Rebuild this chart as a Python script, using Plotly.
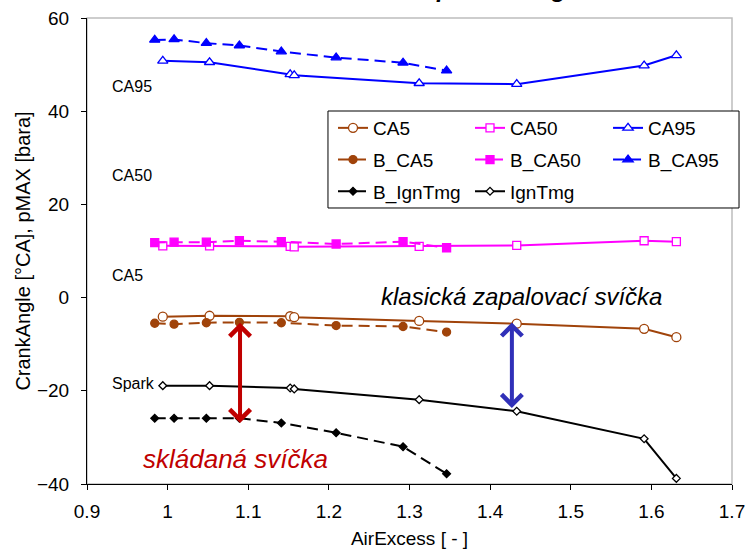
import plotly.graph_objects as go

# ---- data ----
x_open = [0.994, 1.052, 1.152, 1.157, 1.312, 1.433, 1.591, 1.631]
ca5 = [-4.1, -3.9, -4.0, -4.2, -5.0, -5.6, -6.7, -8.5]
ca50 = [11.1, 11.1, 11.0, 10.9, 11.0, 11.2, 12.2, 12.0]
ca95 = [50.8, 50.5, 47.9, 47.7, 46.0, 45.8, 49.8, 52.0]
ign = [-18.9, -18.9, -19.4, -19.6, -21.9, -24.4, -30.3, -38.8]

x_b = [0.984, 1.008, 1.048, 1.089, 1.141, 1.209, 1.292, 1.346]
b_ca5 = [-5.5, -5.7, -5.4, -5.3, -5.4, -6.0, -6.2, -7.4]
b_ca50 = [11.8, 11.9, 11.9, 12.2, 12.0, 11.5, 12.0, 10.7]
b_ca95 = [55.3, 55.4, 54.6, 54.1, 52.8, 51.5, 50.4, 48.7]
b_ign = [-25.9, -25.9, -25.9, -25.9, -26.9, -29.0, -32.0, -37.8]

x_ticks = [0.9, 1.0, 1.1, 1.2, 1.3, 1.4, 1.5, 1.6, 1.7]
x_ticktext = ["0.9", "1", "1.1", "1.2", "1.3", "1.4", "1.5", "1.6", "1.7"]
y_ticks = [-40, -20, 0, 20, 40, 60]

BROWN = "#A0430A"
MAG = "#FF00FF"
BLUE = "#0000FF"
BLACK = "#000000"
REG = "Liberation Sans, Arial, sans-serif"
DASH = "11px,6px"

fig = go.Figure()

def add(name, x, y, color, symbol, size, dash, legend, fill_white):
    fig.add_trace(go.Scatter(
        x=x, y=y, name=name, mode="lines+markers", legend=legend, legendgroup=name,
        line=dict(color=color, width=2, dash=dash),
        marker=dict(symbol=symbol, size=size,
                    color="white" if fill_white else color,
                    line=dict(color=color, width=1.3)),
    ))

# column 1
add("CA5", x_open, ca5, BROWN, "circle", 9, "solid", "legend", True)
add("B_CA5", x_b, b_ca5, BROWN, "circle", 8, DASH, "legend", False)
add("B_IgnTmg", x_b, b_ign, BLACK, "diamond", 6, DASH, "legend", False)
# column 2
add("CA50", x_open, ca50, MAG, "square", 8, "solid", "legend2", True)
add("B_CA50", x_b, b_ca50, MAG, "square", 8, DASH, "legend2", False)
add("IgnTmg", x_open, ign, BLACK, "diamond", 6, "solid", "legend2", True)
# column 3
add("CA95", x_open, ca95, BLUE, "triangle-up", 9, "solid", "legend3", True)
add("B_CA95", x_b, b_ca95, BLUE, "triangle-up", 9, DASH, "legend3", False)

leg_common = dict(y=0.8047, yanchor="top", xanchor="left", bgcolor="rgba(0,0,0,0)",
                  borderwidth=0, font=dict(family=REG, size=19, color="black"),
                  orientation="v", tracegroupgap=4, traceorder="grouped")

annotations = [
    dict(x=0.9285, y=45.4, xref="x", yref="y", text="CA95", showarrow=False,
         xanchor="left", font=dict(family=REG, size=16, color="black")),
    dict(x=0.9285, y=26.3, xref="x", yref="y", text="CA50", showarrow=False,
         xanchor="left", font=dict(family=REG, size=16, color="black")),
    dict(x=0.9285, y=4.85, xref="x", yref="y", text="CA5", showarrow=False,
         xanchor="left", font=dict(family=REG, size=16, color="black")),
    dict(x=0.9285, y=-18.5, xref="x", yref="y", text="Spark", showarrow=False,
         xanchor="left", font=dict(family=REG, size=16, color="black")),
    dict(x=1.4395, y=0.2, xref="x", yref="y", text="<i>klasická zapalovací svíčka</i>",
         showarrow=False, xanchor="center", font=dict(family=REG, size=24, color="black")),
    dict(x=1.0836, y=-34.6, xref="x", yref="y", text="<i>skládaná svíčka</i>",
         showarrow=False, xanchor="center", font=dict(family=REG, size=26, color="#C00000")),
    # double arrows
    dict(x=1.0898, y=-26.9, ax=1.0898, ay=-5.1, xref="x", yref="y", axref="x", ayref="y",
         text="", showarrow=True, arrowhead=4, startarrowhead=4, arrowside="end+start",
         arrowwidth=4, arrowsize=1, arrowcolor="#C00000"),
    dict(x=1.427, y=-23.7, ax=1.427, ay=-5.0, xref="x", yref="y", axref="x", ayref="y",
         text="", showarrow=True, arrowhead=4, startarrowhead=4, arrowside="end+start",
         arrowwidth=4, arrowsize=1, arrowcolor="#3030B8"),
    # chart title, cut off by the top edge as in the reference
    dict(x=(419 - 87) / 645, y=1.030, xref="paper", yref="paper", text="<b><i>Spark timing</i></b>",
         showarrow=False, xanchor="left", yanchor="bottom",
         font=dict(family=REG, size=24, color="black")),
]

shapes = [
    dict(type="rect", xref="paper", yref="paper", x0=0, x1=1, y0=0, y1=1,
         line=dict(color="#BDBDBD", width=1.5), layer="below"),
    dict(type="rect", xref="paper", yref="paper", x0=0.3736, x1=1.0109, y0=0.5923, y1=0.8004,
         line=dict(color="black", width=1), fillcolor="white", layer="above"),
]

fig.update_layout(
    width=747, height=550,
    margin=dict(l=87, r=15, t=18, b=66, autoexpand=False),
    paper_bgcolor="white", plot_bgcolor="white",
    showlegend=True,
    legend=dict(x=0.3814, **leg_common),
    legend2=dict(x=0.5938, **leg_common),
    legend3=dict(x=0.8078, **leg_common),
    annotations=annotations,
    shapes=shapes,
    xaxis=dict(range=[0.9, 1.7], tickvals=x_ticks, ticktext=x_ticktext, automargin=False,
               showgrid=False, zeroline=False, showline=True, linecolor="black", linewidth=1,
               ticks="outside", ticklen=5, tickcolor="black", ticklabelstandoff=5,
               tickfont=dict(family=REG, size=19, color="black"),
               title=dict(text="AirExcess [ - ]", font=dict(family=REG, size=19, color="black"),
                          standoff=10)),
    yaxis=dict(range=[-40, 60], tickvals=y_ticks, automargin=False,
               showgrid=False, zeroline=False, showline=True, linecolor="black", linewidth=1,
               ticks="outside", ticklen=5, tickcolor="black", ticklabelstandoff=8,
               tickfont=dict(family=REG, size=19, color="black"),
               title=dict(text="CrankAngle [°CA], pMAX [bara]",
                          font=dict(family=REG, size=20, color="black"), standoff=0)),
)

fig.write_html("out.html", config={"displayModeBar": False},
               post_script="document.body.style.margin='0px';")
